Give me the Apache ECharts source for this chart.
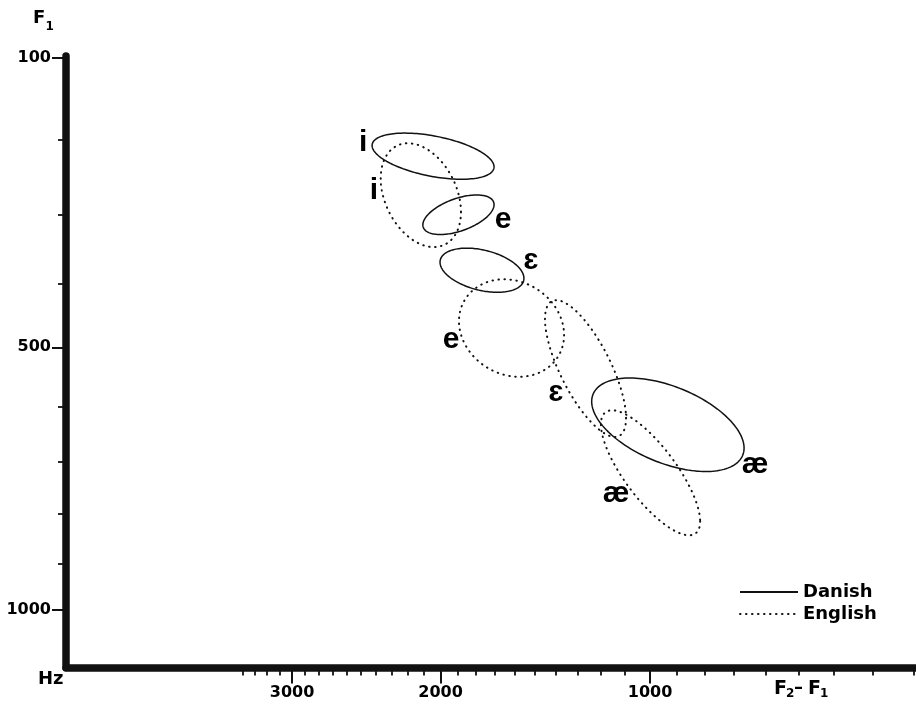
<!DOCTYPE html>
<html><head><meta charset="utf-8">
<script src="https://cdn.jsdelivr.net/npm/echarts@6/dist/echarts.min.js"></script>
<style>html,body{margin:0;padding:0;background:#fff}#c{width:916px;height:706px}</style>
</head><body><div id="c"></div>
<script>
// ---- axis ticks (Hz) ----
const xTickHz = [200,300,400,500,600,700,800,900,1000,1100,1200,1300,1400,1500,1600,1700,1800,1900,2000,2100,2200,2300,2400,2500,2600,2700,2800,2900,3000,3100,3200,3300,3400];
const xLabelHz = [1000, 2000, 3000];
const yTickHz = [100,200,300,400,500,600,700,800,900,1000];
const yLabelHz = [100, 500, 1000];

// ---- vowel areas: centre, side point (conjugate radius), low point (same F2-F1 as centre) ----
const danishVowel       = ['i', 'e', 'ɛ', 'æ'];
const danishCenterF2F1  = [2044, 1898, 1769, 932];
const danishCenterF1    = [221, 300, 380, 632];
const danishSideF2F1    = [1705, 1705, 1553, 667];
const danishSideF1      = [235, 286, 392, 674];
const danishLowF1       = [248, 324, 411, 706];
const danishLabelF2F1   = [2486, 1658, 1518, 632];
const danishLabelF1     = [203, 307, 366, 704];

const englishVowel      = ['i', 'e', 'ɛ', 'æ'];
const englishCenterF2F1 = [2117, 1615, 1266, 998];
const englishCenterF1   = [273, 469, 535, 720];
const englishSideF2F1   = [1884, 1362, 1095, 815];
const englishSideF1     = [296, 480, 620, 814];
const englishLowF1      = [342, 548, 616, 796];
const englishLabelF2F1  = [2413, 1940, 1399, 1136];
const englishLabelF1    = [267, 488, 576, 759];

// ---- axis scale (non-linear frequency scale) ----
const X_OFF = 1000, Y_OFF = 900;
const tx = f => Math.log(f + X_OFF);
const ty = f => Math.log(f + Y_OFF);
const X_RANGE = [195, 5196];
const Y_RANGE = [97.7, 1131.7];

const FONT = 'DejaVu Sans';
const INK = '#111';

function ellipseData(cx, cy, sx, sy, ly) {
  return cx.map((v, i) => [tx(cx[i]), ty(cy[i]), tx(sx[i]), ty(sy[i]), ty(ly[i])]);
}
function labelData(lx, ly) {
  return lx.map((v, i) => [tx(lx[i]), ty(ly[i])]);
}
function ellipseRenderer(dotted) {
  return function (params, api) {
    const c = api.coord([api.value(0), api.value(1)]);
    const s = api.coord([api.value(2), api.value(3)]);
    const l = api.coord([api.value(0), api.value(4)]);
    const ux = s[0] - c[0], uy = s[1] - c[1], vx = l[0] - c[0], vy = l[1] - c[1];
    const pts = [];
    const N = 160;
    for (let k = 0; k < N; k++) {
      const t = 2 * Math.PI * k / N;
      pts.push([c[0] + ux * Math.cos(t) + vx * Math.sin(t), c[1] + uy * Math.cos(t) + vy * Math.sin(t)]);
    }
    return {
      type: 'polygon', shape: { points: pts },
      style: dotted
        ? { fill: 'none', stroke: INK, lineWidth: 2, lineDash: [0.5, 5.5], lineCap: 'round' }
        : { fill: 'none', stroke: INK, lineWidth: 1.5 }
    };
  };
}
function labelRenderer(names) {
  return function (params, api) {
    const p = api.coord([api.value(0), api.value(1)]);
    return {
      type: 'text', x: p[0], y: p[1],
      style: { text: names[params.dataIndex], fill: '#000', fontSize: 30, fontWeight: 'bold', fontFamily: 'Liberation Sans', align: 'center', verticalAlign: 'middle' }
    };
  };
}

const chart = echarts.init(document.getElementById('c'), null, { renderer: 'canvas' });
const labelStyle = { fontFamily: FONT, fontWeight: 'bold', fontSize: 16, color: '#000' };

chart.setOption({
  animation: false,
  backgroundColor: '#fff',
  grid: { left: 66, right: 0, top: 56, bottom: 38.5, containLabel: false },
  xAxis: [
    { type: 'value', inverse: true, position: 'bottom', min: tx(X_RANGE[0]), max: tx(X_RANGE[1]),
      axisLine: { show: true, lineStyle: { color: INK, width: 7.5, cap: 'round' } },
      axisTick: { show: true, customValues: xTickHz.map(tx), length: 8, lineStyle: { color: INK, width: 1.8 } },
      axisLabel: { show: false }, splitLine: { show: false } },
    { type: 'value', inverse: true, position: 'bottom', min: tx(X_RANGE[0]), max: tx(X_RANGE[1]),
      axisLine: { show: false },
      axisTick: { show: true, customValues: xLabelHz.map(tx), length: 16, lineStyle: { color: INK, width: 2 } },
      axisLabel: Object.assign({ show: true, customValues: xLabelHz.map(tx), margin: 17,
        formatter: v => String(Math.round(Math.exp(v) - X_OFF)) }, labelStyle),
      splitLine: { show: false } }
  ],
  yAxis: [
    { type: 'value', inverse: true, position: 'left', min: ty(Y_RANGE[0]), max: ty(Y_RANGE[1]),
      axisLine: { show: true, lineStyle: { color: INK, width: 7.5 } },
      axisTick: { show: true, customValues: yTickHz.map(ty), length: 8, lineStyle: { color: INK, width: 1.8 } },
      axisLabel: { show: false }, splitLine: { show: false } },
    { type: 'value', inverse: true, position: 'left', min: ty(Y_RANGE[0]), max: ty(Y_RANGE[1]),
      axisLine: { show: false },
      axisTick: { show: true, customValues: yLabelHz.map(ty), length: 14, lineStyle: { color: INK, width: 2 } },
      axisLabel: Object.assign({ show: true, customValues: yLabelHz.map(ty), margin: 15,
        formatter: v => String(Math.round(Math.exp(v) - Y_OFF)) }, labelStyle),
      splitLine: { show: false } }
  ],
  legend: {
    orient: 'vertical', left: 734, top: 578, itemWidth: 58, itemHeight: 14, itemGap: 4,
    data: ['Danish', 'English'],
    itemStyle: { opacity: 0 },
    textStyle: { fontFamily: FONT, fontWeight: 'bold', fontSize: 18, color: '#000' }
  },
  graphic: [
    { type: 'text', x: 33, y: 9, style: { text: 'F', fontFamily: FONT, fontWeight: 'bold', fontSize: 18, fill: '#000', verticalAlign: 'top' } },
    { type: 'text', x: 45.5, y: 21, style: { text: '1', fontFamily: FONT, fontWeight: 'bold', fontSize: 12, fill: '#000', verticalAlign: 'top' } },
    { type: 'text', x: 38, y: 670, style: { text: 'Hz', fontFamily: FONT, fontWeight: 'bold', fontSize: 18, fill: '#000', verticalAlign: 'top' } },
    { type: 'text', x: 774, y: 680, style: { text: 'F', fontFamily: FONT, fontWeight: 'bold', fontSize: 19, fill: '#000', verticalAlign: 'top' } },
    { type: 'text', x: 786, y: 688, style: { text: '2', fontFamily: FONT, fontWeight: 'bold', fontSize: 12, fill: '#000', verticalAlign: 'top' } },
    { type: 'text', x: 794, y: 679, style: { text: '–', fontFamily: FONT, fontWeight: 'bold', fontSize: 18, fill: '#000', verticalAlign: 'top' } },
    { type: 'text', x: 808, y: 680, style: { text: 'F', fontFamily: FONT, fontWeight: 'bold', fontSize: 19, fill: '#000', verticalAlign: 'top' } },
    { type: 'text', x: 820, y: 688, style: { text: '1', fontFamily: FONT, fontWeight: 'bold', fontSize: 12, fill: '#000', verticalAlign: 'top' } }
  ],
  series: [
    { name: 'Danish', type: 'line', data: [], symbol: 'none', lineStyle: { color: INK, width: 1.5, type: 'solid' }, itemStyle: { color: INK } },
    { name: 'English', type: 'line', data: [], symbol: 'none', lineStyle: { color: INK, width: 2, type: [0.5, 5.5], cap: 'round' }, itemStyle: { color: INK } },
    { name: 'Danish areas', type: 'custom', xAxisIndex: 0, yAxisIndex: 0, renderItem: ellipseRenderer(false),
      data: ellipseData(danishCenterF2F1, danishCenterF1, danishSideF2F1, danishSideF1, danishLowF1), silent: true },
    { name: 'English areas', type: 'custom', xAxisIndex: 0, yAxisIndex: 0, renderItem: ellipseRenderer(true),
      data: ellipseData(englishCenterF2F1, englishCenterF1, englishSideF2F1, englishSideF1, englishLowF1), silent: true },
    { name: 'Danish labels', type: 'custom', xAxisIndex: 0, yAxisIndex: 0, renderItem: labelRenderer(danishVowel),
      data: labelData(danishLabelF2F1, danishLabelF1), silent: true },
    { name: 'English labels', type: 'custom', xAxisIndex: 0, yAxisIndex: 0, renderItem: labelRenderer(englishVowel),
      data: labelData(englishLabelF2F1, englishLabelF1), silent: true }
  ]
});
</script>
</body></html>
